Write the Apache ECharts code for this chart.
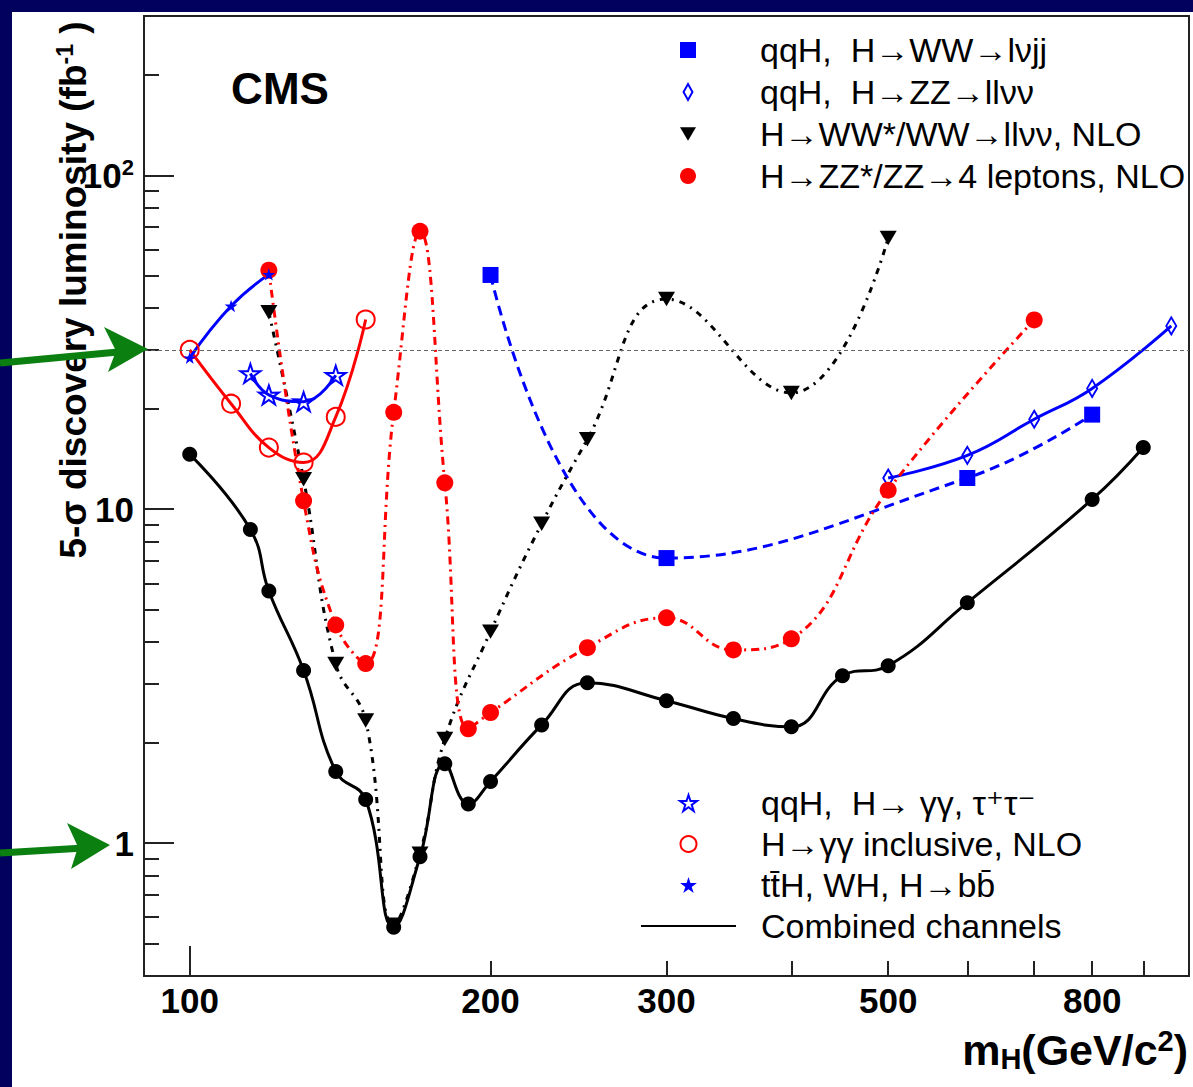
<!DOCTYPE html>
<html>
<head>
<meta charset="utf-8">
<script src="https://cdn.jsdelivr.net/npm/echarts@6/dist/echarts.min.js"></script>
<style>
html,body{margin:0;padding:0;background:#02025e;}
#c{width:1193px;height:1087px;}
</style>
</head>
<body>
<div id="c"></div>
<script>
// ---------------- data (m_H in GeV/c^2, luminosity in fb^-1) ----------------
const massWWlvjj = [200, 300, 600, 800];
const lumiWWlvjj = [50.3, 7.14, 12.4, 19.2];

const massZZllvv = [500, 600, 700, 800, 960];
const lumiZZllvv = [12.4, 14.5, 18.6, 23.0, 35.4];

const massWWllvv = [120, 130, 140, 150, 160, 170, 180, 200, 225, 250, 300, 400, 500];
const lumiWWllvv = [38.9, 12.3, 3.44, 2.33, 0.57, 0.93, 2.05, 4.3, 9.05, 16.2, 42.6, 22.3, 64.9];

const massZZ4l = [120, 130, 140, 150, 160, 170, 180, 190, 200, 250, 300, 350, 400, 500, 700];
const lumiZZ4l = [52.0, 10.6, 4.5, 3.45, 19.5, 68.0, 12.0, 2.2, 2.46, 3.85, 4.73, 3.79, 4.09, 11.4, 36.9];

const massQqhGG = [115, 120, 130, 140];
const lumiQqhGG = [25.5, 22.0, 21.0, 25.2];

const massGGincl = [100, 110, 120, 130, 140, 150];
const lumiGGincl = [30.0, 20.7, 15.3, 13.8, 18.9, 37.0];

const massTtH = [100, 110, 120];
const lumiTtH = [28.4, 40.6, 50.5];

const massCombined = [100, 115, 120, 130, 140, 150, 160, 170, 180, 190, 200, 225, 250, 300, 350, 400, 450, 500, 600, 800, 900];
const lumiCombined = [14.6, 8.7, 5.69, 3.29, 1.64, 1.35, 0.56, 0.91, 1.73, 1.31, 1.53, 2.26, 3.02, 2.67, 2.36, 2.23, 3.17, 3.40, 5.25, 10.7, 15.3];

const discoveryLine = 30;

const xLabelValues = [100, 200, 300, 500, 800];
const xMajorTicks = [100];
const xMinorTicks = [200, 300, 400, 500, 600, 700, 800, 900];
const yLabelValues = [1, 10, 100];
const yMajorTicks = [1, 10, 100];
const yMinorTicks = [0.5, 0.6, 0.7, 0.8, 0.9, 2, 3, 4, 5, 6, 7, 8, 9, 20, 30, 40, 50, 60, 70, 80, 90, 200];

const ARROW = '\u2192';
const names = {
  wwlvjj: 'qqH,\u00a0 H' + ARROW + 'WW' + ARROW + 'l\u03bdjj',
  zzllvv: 'qqH,\u00a0 H' + ARROW + 'ZZ' + ARROW + 'll\u03bd\u03bd',
  wwllvv: 'H' + ARROW + 'WW*/WW' + ARROW + 'll\u03bd\u03bd, NLO',
  zz4l: 'H' + ARROW + 'ZZ*/ZZ' + ARROW + '4 leptons, NLO',
  qqhgg: 'qqH,\u00a0 H' + ARROW + ' \u03b3\u03b3, \u03c4\u207a\u03c4\u207b',
  ggincl: 'H' + ARROW + '\u03b3\u03b3 inclusive, NLO',
  tth: 'tt\u0304H, WH, H' + ARROW + 'bb\u0304',
  comb: 'Combined channels'
};

// ---------------- styling ----------------
const FONT = '"Liberation Sans", Arial, Helvetica, "DejaVu Sans", sans-serif';
const BLUE = '#0000ff', RED = '#ff0000', BLACK = '#000000';
const CLEAR = 'rgba(255,255,255,0)';
const STAR = 'path://M50,2 L61.2,36.6 L97.6,36.5 L68.1,57.9 L79.4,92.5 L50,71 L20.6,92.5 L31.9,57.9 L2.4,36.5 L38.8,36.6 Z';
const TRI_DOWN = 'path://M0,0 L20,0 L10,17 Z';
const SQUARE = 'path://M0,0 L10,0 L10,10 L0,10 Z';
const DIAMOND = 'path://M5,0 L10,9 L5,18 L0,9 Z';
const GREEN = '#0b7f10';

const pairs = (xs, ys) => xs.map((x, i) => [x, ys[i]]);

function lineSeries(name, xs, ys, opts) {
  return Object.assign({
    type: 'line',
    name: name,
    xAxisIndex: 0,
    yAxisIndex: 0,
    data: pairs(xs, ys),
    smooth: 0.45,
    symbolKeepAspect: true,
    showSymbol: true,
    animation: false
  }, opts);
}

const series = [
  lineSeries(names.wwlvjj, massWWlvjj, lumiWWlvjj, {
    symbol: 'rect', symbolSize: 16,
    itemStyle: { color: BLUE },
    lineStyle: { color: BLUE, width: 3, type: [10, 6] }
  }),
  lineSeries(names.zzllvv, massZZllvv, lumiZZllvv, {
    symbol: 'diamond', symbolSize: [10, 17], symbolKeepAspect: false,
    itemStyle: { color: CLEAR, borderColor: BLUE, borderWidth: 2 },
    lineStyle: { color: BLUE, width: 3 }
  }),
  lineSeries(names.wwllvv, massWWllvv, lumiWWllvv, {
    symbol: TRI_DOWN, symbolSize: 17,
    itemStyle: { color: BLACK },
    lineStyle: { color: BLACK, width: 3, type: [6, 6, 2, 6] }
  }),
  lineSeries(names.zz4l, massZZ4l, lumiZZ4l, {
    symbol: 'circle', symbolSize: 17,
    itemStyle: { color: RED },
    lineStyle: { color: RED, width: 3, type: [8, 5, 2, 5] }
  }),
  lineSeries(names.qqhgg, massQqhGG, lumiQqhGG, {
    symbol: STAR, symbolSize: 20,
    itemStyle: { color: CLEAR, borderColor: BLUE, borderWidth: 2 },
    lineStyle: { color: BLUE, width: 3 }
  }),
  lineSeries(names.ggincl, massGGincl, lumiGGincl, {
    symbol: 'circle', symbolSize: 18,
    itemStyle: { color: CLEAR, borderColor: RED, borderWidth: 2 },
    lineStyle: { color: RED, width: 3 }
  }),
  lineSeries(names.tth, massTtH, lumiTtH, {
    symbol: STAR, symbolSize: 13,
    itemStyle: { color: BLUE },
    lineStyle: { color: BLUE, width: 3 }
  }),
  lineSeries(names.comb, massCombined, lumiCombined, {
    symbol: 'circle', symbolSize: 15,
    itemStyle: { color: BLACK },
    lineStyle: { color: BLACK, width: 3 },
    markLine: {
      silent: true,
      symbol: ['none', 'none'],
      label: { show: false },
      lineStyle: { color: '#666', width: 1.2, type: [4, 3] },
      data: [{ yAxis: discoveryLine }]
    }
  })
];

const option = {
  animation: false,
  backgroundColor: '#02025e',
  grid: {
    left: 144, right: 4, top: 16, bottom: 111,
    show: true, borderColor: '#222', borderWidth: 2, backgroundColor: '#fff'
  },
  xAxis: [
    {
      type: 'log', logBase: 10, min: 90, max: 1000, position: 'bottom',
      axisLine: { show: true, lineStyle: { color: '#222', width: 2 } },
      axisTick: { show: true, inside: true, length: 30, customValues: xMajorTicks, lineStyle: { color: '#222', width: 2 } },
      axisLabel: {
        show: true, customValues: xLabelValues, margin: 7,
        fontSize: 35, fontWeight: 'bold', fontFamily: FONT, color: '#000',
        formatter: v => String(Math.round(v))
      },
      splitLine: { show: false },
      minorTick: { show: false }
    },
    {
      type: 'log', logBase: 10, min: 90, max: 1000, position: 'bottom', offset: 0,
      axisLine: { show: false },
      axisTick: { show: true, inside: true, length: 15, customValues: xMinorTicks, lineStyle: { color: '#222', width: 2 } },
      axisLabel: { show: false },
      splitLine: { show: false }
    }
  ],
  yAxis: [
    {
      type: 'log', logBase: 10, min: 0.4, max: 300, position: 'left',
      axisLine: { show: true, lineStyle: { color: '#222', width: 2 } },
      axisTick: { show: true, inside: true, length: 30, customValues: yMajorTicks, lineStyle: { color: '#222', width: 2 } },
      axisLabel: {
        show: true, customValues: yLabelValues, margin: 10,
        fontSize: 35, fontWeight: 'bold', fontFamily: FONT, color: '#000',
        formatter: v => (Math.round(v) === 100 ? '10{sup|2}' : String(Math.round(v))),
        rich: { sup: { fontSize: 22, fontWeight: 'bold', fontFamily: FONT, color: '#000', verticalAlign: 'top', padding: [0, 0, 16, 0] } }
      },
      splitLine: { show: false }
    },
    {
      type: 'log', logBase: 10, min: 0.4, max: 300, position: 'left', offset: 0,
      axisLine: { show: false },
      axisTick: { show: true, inside: true, length: 15, customValues: yMinorTicks, lineStyle: { color: '#222', width: 2 } },
      axisLabel: { show: false },
      splitLine: { show: false }
    }
  ],
  legend: [
    {
      left: 680, top: 33, width: 500, padding: 0, orient: 'vertical', itemWidth: 16, itemHeight: 16, itemGap: 8,
      selectedMode: false,
      textStyle: { fontSize: 34, fontFamily: FONT, color: '#000', padding: [0, 0, 0, 59] },
      data: [
        { name: names.wwlvjj, icon: SQUARE },
        { name: names.zzllvv, icon: DIAMOND },
        { name: names.wwllvv, icon: TRI_DOWN },
        { name: names.zz4l, icon: 'circle' }
      ]
    },
    {
      left: 635, top: 781, width: 530, orient: 'vertical', itemWidth: 95, itemHeight: 16, itemGap: 7,
      selectedMode: false,
      textStyle: { fontSize: 34, fontFamily: FONT, color: '#000', padding: [0, 0, 0, 20] },
      data: [
        { name: names.qqhgg, icon: STAR },
        { name: names.ggincl, icon: 'circle' },
        { name: names.tth, icon: STAR },
        { name: names.comb, itemStyle: { opacity: 0 } }
      ]
    }
  ],
  graphic: [
    { type: 'rect', z: -100, silent: true, shape: { x: 12, y: 12, width: 1181, height: 1075 }, style: { fill: '#fff' } },
    { type: 'text', x: 280, y: 88, z: 50, silent: true,
      style: { text: 'CMS', fontSize: 44, fontWeight: 'bold', fontFamily: FONT, fill: '#000', align: 'center', verticalAlign: 'middle' } },
    { type: 'text', x: 73, y: 290, rotation: Math.PI / 2, z: 50, silent: true,
      style: {
        text: '5-\u03c3 discovery luminosity (fb{sup|-1} )',
        fontSize: 37, fontWeight: 'bold', fontFamily: FONT, fill: '#000', align: 'center', verticalAlign: 'middle',
        rich: { sup: { fontSize: 23, fontWeight: 'bold', fontFamily: FONT, fill: '#000', verticalAlign: 'top', padding: [0, 0, 16, 0] } }
      } },
    { type: 'text', x: 1188, y: 1050, z: 50, silent: true,
      style: {
        text: 'm{sub|H}(GeV/c{sup|2})',
        fontSize: 43, fontWeight: 'bold', fontFamily: FONT, fill: '#000', align: 'right', verticalAlign: 'middle',
        rich: {
          sub: { fontSize: 29, fontWeight: 'bold', fontFamily: FONT, fill: '#000', verticalAlign: 'bottom', padding: [18, 0, 0, 0] },
          sup: { fontSize: 29, fontWeight: 'bold', fontFamily: FONT, fill: '#000', verticalAlign: 'top', padding: [0, 0, 18, 0] }
        }
      } },
    // green annotation arrows
    { type: 'line', z: 60, silent: true, shape: { x1: 0, y1: 363, x2: 118, y2: 352 }, style: { stroke: GREEN, lineWidth: 7 } },
    { type: 'polygon', z: 60, silent: true, shape: { points: [[148, 349], [104, 327], [116, 351], [108, 372]] }, style: { fill: GREEN } },
    { type: 'line', z: 60, silent: true, shape: { x1: 0, y1: 853, x2: 84, y2: 848 }, style: { stroke: GREEN, lineWidth: 7 } },
    { type: 'polygon', z: 60, silent: true, shape: { points: [[110, 845], [67, 823], [78, 847], [71, 869]] }, style: { fill: GREEN } }
  ],
  series: series
};

const chart = echarts.init(document.getElementById('c'), null, { renderer: 'svg' });
chart.setOption(option);
</script>
</body>
</html>
